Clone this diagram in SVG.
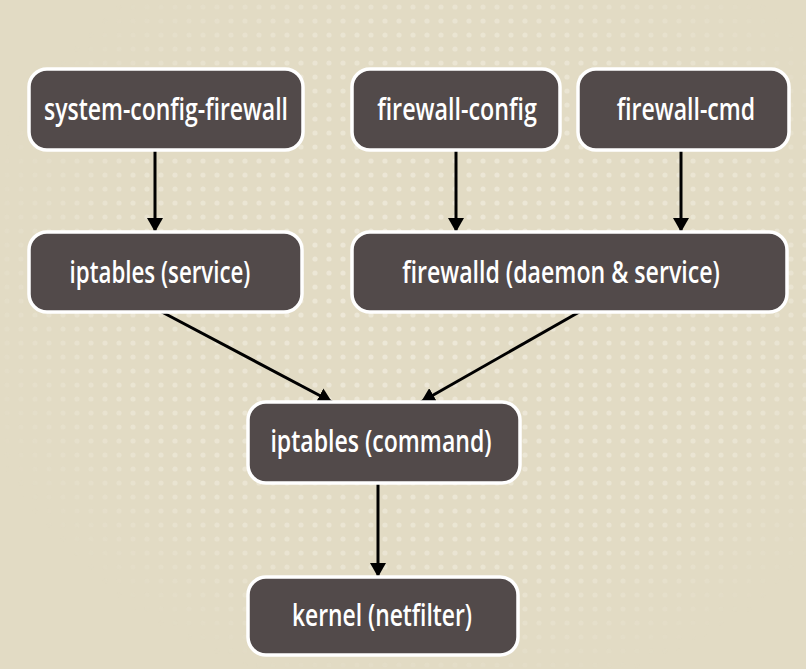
<svg xmlns="http://www.w3.org/2000/svg" width="806" height="669" viewBox="0 0 806 669">
<defs>
<style>
.node rect{fill:#524a4a;stroke:#ffffff;stroke-width:3.5}
.node text{fill:#ffffff;font-family:"Open Sans","Noto Sans","DejaVu Sans",sans-serif;font-size:30px;font-weight:600;text-anchor:middle}
.edge{stroke:#000;stroke-width:3;fill:none;marker-end:url(#arr)}
</style>
<marker id="arr" viewBox="0 0 14 16" refX="14" refY="8" markerWidth="14" markerHeight="16" orient="auto" markerUnits="userSpaceOnUse">
<path d="M0,0 L14,8 L0,16 Z" fill="#000"/>
</marker>
<pattern id="dots" width="14" height="14" patternUnits="userSpaceOnUse">
<circle cx="7" cy="7" r="2.6" fill="#ede8d8"/>
</pattern>
<radialGradient id="fade" cx="0.55" cy="0.45" r="0.6">
<stop offset="0" stop-color="#fff" stop-opacity="1"/>
<stop offset="0.7" stop-color="#fff" stop-opacity="0.7"/>
<stop offset="1" stop-color="#fff" stop-opacity="0"/>
</radialGradient>
<mask id="m"><rect width="806" height="669" fill="url(#fade)"/></mask>
</defs>
<rect width="806" height="669" fill="#e2dbc4"/>
<rect width="806" height="669" fill="url(#dots)" mask="url(#m)"/>
<g id="connectors">
<line class="edge" x1="155" y1="151" x2="155" y2="232"/>
<line class="edge" x1="456" y1="151" x2="456" y2="232"/>
<line class="edge" x1="681" y1="151" x2="681" y2="232"/>
<line class="edge" x1="160" y1="311" x2="332" y2="402"/>
<line class="edge" x1="581" y1="311" x2="421" y2="402"/>
<line class="edge" x1="378" y1="484" x2="378" y2="577"/>
</g>
<g id="n-scf" class="node"><rect x="29" y="69" width="274" height="81" rx="18"/><text transform="translate(166,120) scale(0.76,1)" textLength="321" lengthAdjust="spacingAndGlyphs">system-config-firewall</text></g>
<g id="n-fwconfig" class="node"><rect x="352" y="69" width="208" height="81" rx="18"/><text transform="translate(457,120) scale(0.76,1)" textLength="210" lengthAdjust="spacingAndGlyphs">firewall-config</text></g>
<g id="n-fwcmd" class="node"><rect x="578" y="69" width="211" height="81" rx="18"/><text transform="translate(686,120) scale(0.76,1)" textLength="182" lengthAdjust="spacingAndGlyphs">firewall-cmd</text></g>
<g id="n-iptsvc" class="node"><rect x="29" y="232" width="273" height="80" rx="18"/><text transform="translate(160,283) scale(0.76,1)" textLength="238" lengthAdjust="spacingAndGlyphs">iptables (service)</text></g>
<g id="n-firewalld" class="node"><rect x="352" y="232" width="435" height="80" rx="18"/><text transform="translate(561,283) scale(0.76,1)" textLength="418" lengthAdjust="spacingAndGlyphs">firewalld (daemon &amp; service)</text></g>
<g id="n-iptcmd" class="node"><rect x="248" y="402" width="272" height="81" rx="18"/><text transform="translate(381,452) scale(0.76,1)" textLength="291" lengthAdjust="spacingAndGlyphs">iptables (command)</text></g>
<g id="n-kernel" class="node"><rect x="248" y="577" width="270" height="78" rx="18"/><text transform="translate(382,626) scale(0.76,1)" textLength="237" lengthAdjust="spacingAndGlyphs">kernel (netfilter)</text></g>
</svg>
